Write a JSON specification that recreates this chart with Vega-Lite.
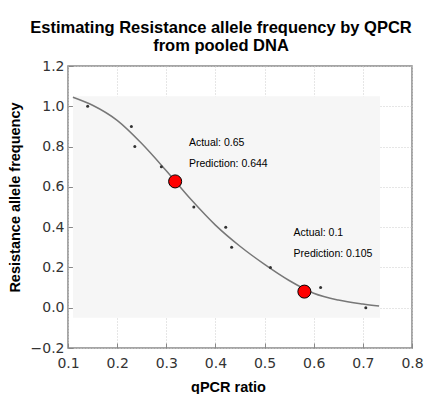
{
  "$schema": "https://vega.github.io/schema/vega-lite/v6.json",
  "width": 344,
  "height": 282,
  "autosize": "none",
  "padding": {"left": 68, "top": 66, "right": 14, "bottom": 46},
  "background": "white",
  "title": {
    "text": ["Estimating Resistance allele frequency by QPCR", "from pooled DNA"],
    "font": "Liberation Sans",
    "fontSize": 16.5,
    "fontWeight": "bold",
    "color": "black",
    "anchor": "middle",
    "dx": -19,
    "offset": 5,
    "lineHeight": 18
  },
  "config": {
    "view": {"stroke": "#888888", "strokeWidth": 1.5},
    "axis": {
      "labelFont": "DejaVu Sans",
      "labelFontSize": 14,
      "labelColor": "#333333",
      "labelFlush": false,
      "titleFont": "Liberation Sans",
      "titleFontSize": 14.5,
      "titleFontWeight": "bold",
      "titleColor": "black",
      "domain": false,
      "tickColor": "#888888",
      "tickSize": -5,
      "labelPadding": 9,
      "grid": true,
      "gridColor": "#cccccc",
      "gridDash": [1, 2],
      "gridWidth": 1,
      "zindex": 1
    }
  },
  "datasets": {
    "band": [{"x1": 0.11, "x2": 0.735, "y1": -0.05, "y2": 1.05}],
    "curve": [
      {"x": 0.11, "y": 1.045},
      {"x": 0.15, "y": 1.005},
      {"x": 0.2, "y": 0.93},
      {"x": 0.25, "y": 0.815},
      {"x": 0.3, "y": 0.68},
      {"x": 0.35, "y": 0.538},
      {"x": 0.4, "y": 0.41},
      {"x": 0.45, "y": 0.305},
      {"x": 0.5, "y": 0.215},
      {"x": 0.55, "y": 0.135},
      {"x": 0.6, "y": 0.072},
      {"x": 0.65, "y": 0.038},
      {"x": 0.7, "y": 0.018},
      {"x": 0.733, "y": 0.008}
    ],
    "obs": [
      {"x": 0.14, "y": 1.0},
      {"x": 0.229, "y": 0.9},
      {"x": 0.236, "y": 0.8},
      {"x": 0.29, "y": 0.7},
      {"x": 0.356, "y": 0.5},
      {"x": 0.421, "y": 0.4},
      {"x": 0.433, "y": 0.3},
      {"x": 0.512, "y": 0.2},
      {"x": 0.614, "y": 0.1},
      {"x": 0.706, "y": 0.0}
    ],
    "pred": [
      {"x": 0.318, "y": 0.627},
      {"x": 0.581, "y": 0.08}
    ],
    "labels": [
      {"x": 0.346, "y": 0.82, "text": "Actual: 0.65"},
      {"x": 0.346, "y": 0.714, "text": "Prediction: 0.644"},
      {"x": 0.559, "y": 0.37, "text": "Actual: 0.1"},
      {"x": 0.559, "y": 0.265, "text": "Prediction: 0.105"}
    ]
  },
  "layer": [
    {
      "data": {"name": "band"},
      "mark": {"type": "rect", "color": "#f6f6f6"},
      "encoding": {
        "x": {"field": "x1", "type": "quantitative", "scale": {"domain": [0.1, 0.8], "nice": false, "zero": false},
              "axis": {"values": [0.1, 0.2, 0.3, 0.4, 0.5, 0.6, 0.7, 0.8], "format": ".1f", "title": "qPCR ratio", "labelPadding": 13,
                       "titleX": 160, "titleY": 39, "titleBaseline": "middle", "titleAlign": "center"}},
        "x2": {"field": "x2"},
        "y": {"field": "y1", "type": "quantitative", "scale": {"domain": [-0.2, 1.2], "nice": false, "zero": false},
              "axis": {"values": [-0.2, 0, 0.2, 0.4, 0.6, 0.8, 1.0, 1.2], "format": ".1f", "title": "Resistance allele frequency",
                       "titleX": -53, "titleY": 131, "titleBaseline": "middle", "titleAlign": "center", "titleAngle": -90}},
        "y2": {"field": "y2"}
      }
    },
    {
      "data": {"name": "curve"},
      "mark": {"type": "line", "color": "#777777", "strokeWidth": 1.5, "interpolate": "monotone"},
      "encoding": {
        "x": {"field": "x", "type": "quantitative"},
        "y": {"field": "y", "type": "quantitative"}
      }
    },
    {
      "data": {"name": "obs"},
      "mark": {"type": "circle", "color": "#333333", "size": 9, "opacity": 1},
      "encoding": {
        "x": {"field": "x", "type": "quantitative"},
        "y": {"field": "y", "type": "quantitative"}
      }
    },
    {
      "data": {"name": "pred"},
      "mark": {"type": "point", "shape": "circle", "filled": true, "fill": "#ff0000", "stroke": "black", "strokeWidth": 1, "size": 170, "opacity": 1},
      "encoding": {
        "x": {"field": "x", "type": "quantitative"},
        "y": {"field": "y", "type": "quantitative"}
      }
    },
    {
      "data": {"name": "labels"},
      "mark": {"type": "text", "align": "left", "baseline": "middle", "font": "Liberation Sans", "fontSize": 10.5, "color": "black"},
      "encoding": {
        "x": {"field": "x", "type": "quantitative"},
        "y": {"field": "y", "type": "quantitative"},
        "text": {"field": "text"}
      }
    }
  ]
}
